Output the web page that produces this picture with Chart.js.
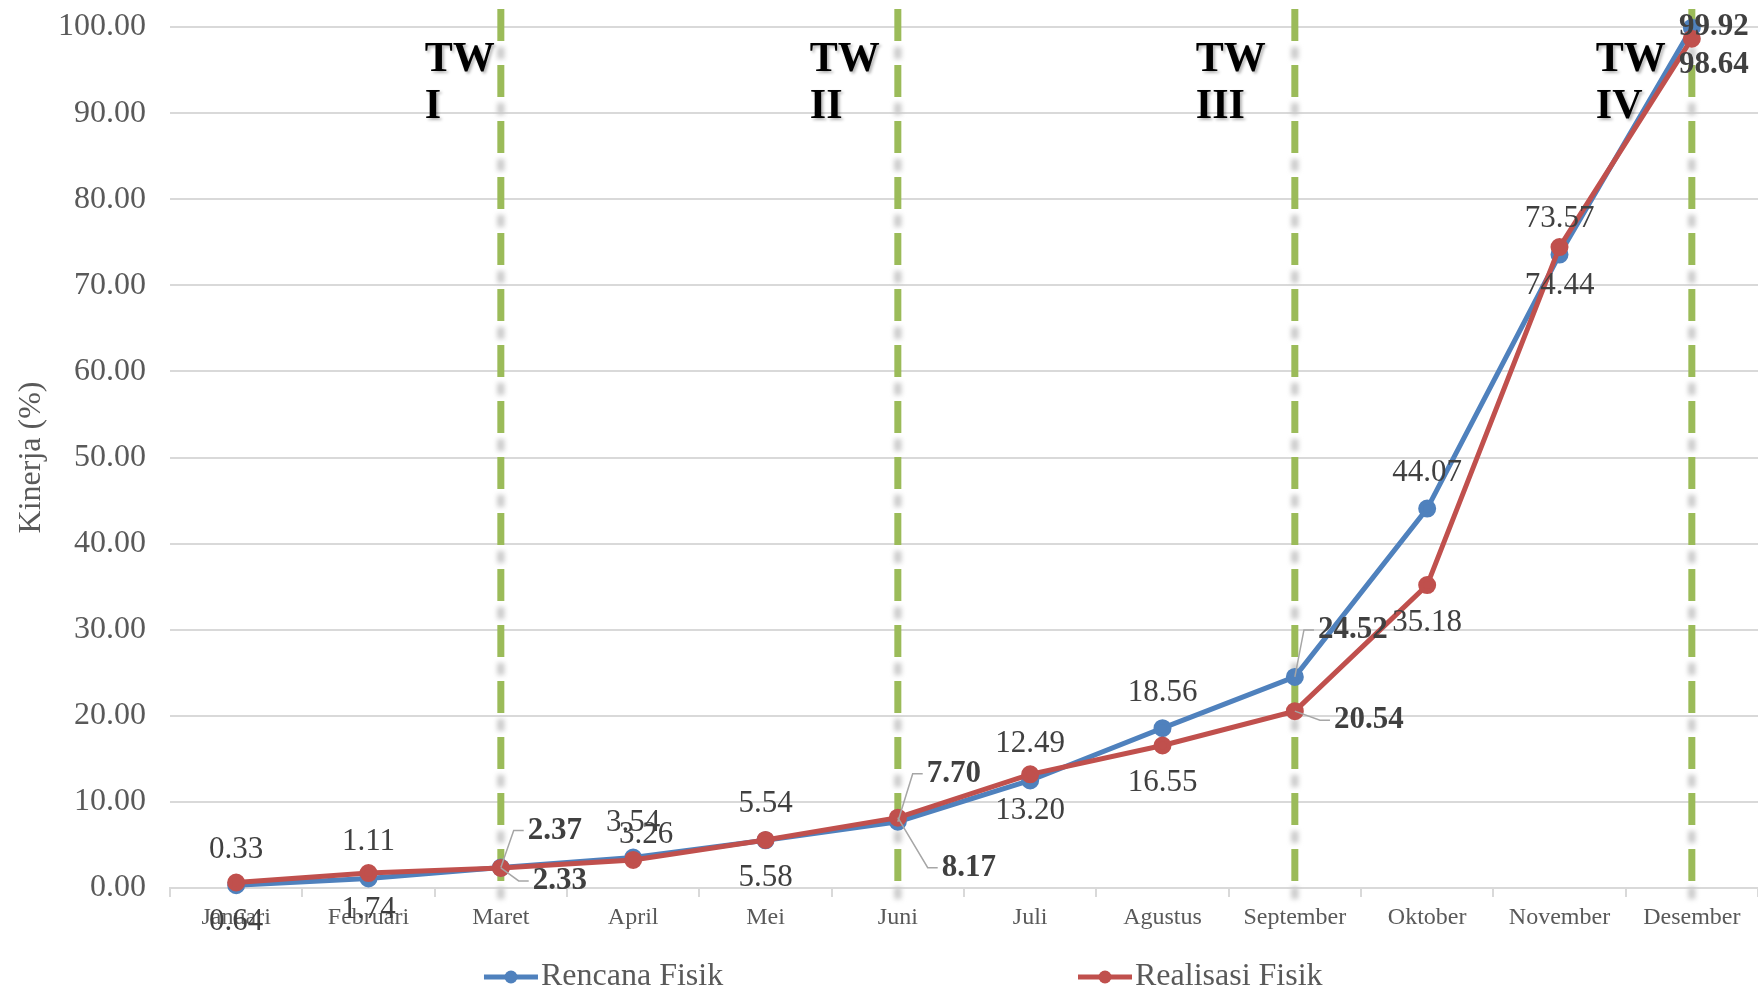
<!DOCTYPE html>
<html>
<head>
<meta charset="utf-8">
<title>Kinerja Fisik</title>
<script src="https://cdn.jsdelivr.net/npm/chart.js@4.4.1/dist/chart.umd.min.js"></script>
<style>
  html, body { margin: 0; padding: 0; background: #fff; }
  #wrap { width: 1758px; height: 992px; }
</style>
</head>
<body>
<div id="wrap"><canvas id="chart" width="1758" height="992"></canvas></div>
<script>
// ── Data ──────────────────────────────────────────────────────────────────────
const MONTHS    = ['Januari', 'Februari', 'Maret', 'April', 'Mei', 'Juni', 'Juli', 'Agustus', 'September', 'Oktober', 'November', 'Desember'];
const RENCANA   = [0.33, 1.11, 2.37, 3.54, 5.54, 7.70, 12.49, 18.56, 24.52, 44.07, 73.57, 99.92];
const REALISASI = [0.64, 1.74, 2.33, 3.26, 5.58, 8.17, 13.20, 16.55, 20.54, 35.18, 74.44, 98.64];
const Y_MIN = 0, Y_MAX = 100, Y_STEP = 10;

const QUARTER_END    = [2, 5, 8, 11];
const QUARTER_LABELS = [['TW', 'I'], ['TW', 'II'], ['TW', 'III'], ['TW', 'IV']];

// ── Label placement (px offsets of label centre from its point) ──────────────
const RENCANA_LABEL_POS   = [[0,-35],[0,-37],[54,-37],[0,-35],[0,-36],[56,-48],[0,-37],[0,-35],[58,-47],[0,-36],[0,-36],[22,-1]];
const REALISASI_LABEL_POS = [[0,39],[0,37],[59,13],[13,-25],[0,38],[71,50],[0,37],[0,37],[74,9],[0,38],[0,39],[22,26]];
const TW_LEFT_SHIFT       = [76, 88, 99, 96];

const BLUE  = '#4F81BD';
const RED   = '#C0504D';
const GREEN = '#9BBB59';
const SERIF = '"Liberation Serif", "Times New Roman", serif';

// ── Overlay: quarter lines, TW captions, data labels, legend ──────────────────
const overlay = {
  id: 'overlay',
  beforeDatasetsDraw(chart) {
    const { ctx, chartArea, scales: { x } } = chart;
    const y0 = chartArea.top - 18, y1 = chartArea.bottom + 12;

    ctx.save();
    QUARTER_END.forEach(i => {
      const px = x.getPixelForValue(i);
      // faint grey shadow blobs in the gaps
      ctx.save();
      ctx.filter = 'blur(2.5px)';
      ctx.strokeStyle = '#C8C8C8';
      ctx.lineWidth = 7;
      ctx.setLineDash([12, 44]);
      ctx.lineDashOffset = 18;
      ctx.beginPath();
      ctx.moveTo(px, y0);
      ctx.lineTo(px, y1 + 20);
      ctx.stroke();
      ctx.restore();
      // green dashes
      ctx.strokeStyle = GREEN;
      ctx.lineWidth = 7;
      ctx.setLineDash([32, 24]);
      ctx.beginPath();
      ctx.moveTo(px, y0);
      ctx.lineTo(px, y1);
      ctx.stroke();
    });
    ctx.restore();
  },
  afterDatasetsDraw(chart) {
    const { ctx, chartArea, scales: { x } } = chart;

    // TW captions
    ctx.save();
    ctx.fillStyle = '#000';
    ctx.font = `bold 42px ${SERIF}`;
    ctx.textAlign = 'left';
    ctx.textBaseline = 'alphabetic';
    ctx.shadowColor = 'rgba(0,0,0,0.3)';
    ctx.shadowBlur = 3;
    ctx.shadowOffsetX = 2;
    ctx.shadowOffsetY = 2;
    QUARTER_END.forEach((idx, q) => {
      const left = x.getPixelForValue(idx) - TW_LEFT_SHIFT[q];
      ctx.fillText(QUARTER_LABELS[q][0], left, chartArea.top + 44);
      ctx.fillText(QUARTER_LABELS[q][1], left, chartArea.top + 91);
    });
    ctx.restore();

    // data labels
    const sets = [
      { meta: chart.getDatasetMeta(0), values: RENCANA,   pos: RENCANA_LABEL_POS },
      { meta: chart.getDatasetMeta(1), values: REALISASI, pos: REALISASI_LABEL_POS },
    ];
    ctx.save();
    ctx.textAlign = 'center';
    ctx.textBaseline = 'middle';
    sets.forEach(s => {
      s.values.forEach((v, i) => {
        const pt = s.meta.data[i];
        const isQ = QUARTER_END.includes(i);
        const txt = v.toFixed(2);
        ctx.font = `${isQ ? 'bold ' : ''}31px ${SERIF}`;
        const cx = pt.x + s.pos[i][0];
        const cy = pt.y + s.pos[i][1];
        // leader lines for the shifted quarter labels
        if (isQ && i !== 11) {
          const w = ctx.measureText(txt).width;
          const lx = cx - w / 2 - 4;
          ctx.strokeStyle = '#A6A6A6';
          ctx.lineWidth = 1.5;
          ctx.beginPath();
          ctx.moveTo(pt.x, pt.y);
          ctx.lineTo(lx - 10, cy);
          ctx.lineTo(lx, cy);
          ctx.stroke();
        }
        ctx.fillStyle = '#404040';
        ctx.fillText(txt, cx, cy);
      });
    });
    ctx.restore();
  },
  afterDraw(chart) {
    const { ctx, width } = chart;
    const items = [
      { label: 'Rencana Fisik',   color: BLUE, x: width * 0.2753 },
      { label: 'Realisasi Fisik', color: RED,  x: width * 0.6132 },
    ];
    const y = 977;
    ctx.save();
    items.forEach(it => {
      ctx.strokeStyle = it.color;
      ctx.lineWidth = 5;
      ctx.beginPath();
      ctx.moveTo(it.x, y);
      ctx.lineTo(it.x + 54, y);
      ctx.stroke();
      ctx.fillStyle = it.color;
      ctx.beginPath();
      ctx.arc(it.x + 27, y, 6.5, 0, Math.PI * 2);
      ctx.fill();
      ctx.fillStyle = '#595959';
      ctx.font = `32px ${SERIF}`;
      ctx.textAlign = 'left';
      ctx.textBaseline = 'middle';
      ctx.fillText(it.label, it.x + 57, y);
    });
    ctx.restore();
  }
};

// ── Chart ─────────────────────────────────────────────────────────────────────
const ctx = document.getElementById('chart').getContext('2d');
new Chart(ctx, {
  type: 'line',
  data: {
    labels: MONTHS,
    datasets: [
      {
        label: 'Rencana Fisik',
        data: RENCANA,
        borderColor: BLUE,
        backgroundColor: BLUE,
        pointBackgroundColor: BLUE,
        pointBorderColor: BLUE,
        borderWidth: 5,
        pointRadius: 6.5,
        tension: 0,
        clip: false,
        order: 2,
      },
      {
        label: 'Realisasi Fisik',
        data: REALISASI,
        borderColor: RED,
        backgroundColor: RED,
        pointBackgroundColor: RED,
        pointBorderColor: RED,
        borderWidth: 5,
        pointRadius: 6.5,
        tension: 0,
        clip: false,
        order: 1,
      },
    ]
  },
  options: {
    responsive: false,
    animation: false,
    layout: { autoPadding: false, padding: { top: 27, right: 0, bottom: 0, left: 0 } },
    plugins: {
      legend: { display: false },
      tooltip: { enabled: false },
    },
    scales: {
      x: {
        offset: true,
        grid: { offset: true, drawOnChartArea: false, drawTicks: true, tickLength: 9, color: '#D9D9D9', lineWidth: 2 },
        border: { color: '#D9D9D9', width: 2 },
        ticks: { color: '#595959', font: { family: SERIF, size: 24 }, padding: 6, maxRotation: 0, autoSkip: false },
        afterFit(scale) {
          scale.height = 104;
          scale.paddingLeft = 0;
          scale.paddingRight = 0;
        },
      },
      y: {
        min: Y_MIN,
        max: Y_MAX,
        grid: { color: '#D9D9D9', lineWidth: 2, drawTicks: false },
        border: { display: false },
        ticks: {
          stepSize: Y_STEP,
          color: '#595959',
          font: { family: SERIF, size: 32 },
          padding: 24,
          callback: v => v.toFixed(2),
        },
        title: {
          display: true,
          text: 'Kinerja (%)',
          color: '#595959',
          font: { family: SERIF, size: 32 },
          padding: { top: 12, bottom: 0 },
        },
        afterFit(scale) {
          scale.width = 170;
          scale.paddingTop = 0;
          scale.paddingBottom = 0;
        },
      }
    }
  },
  plugins: [overlay]
});
</script>
</body>
</html>
